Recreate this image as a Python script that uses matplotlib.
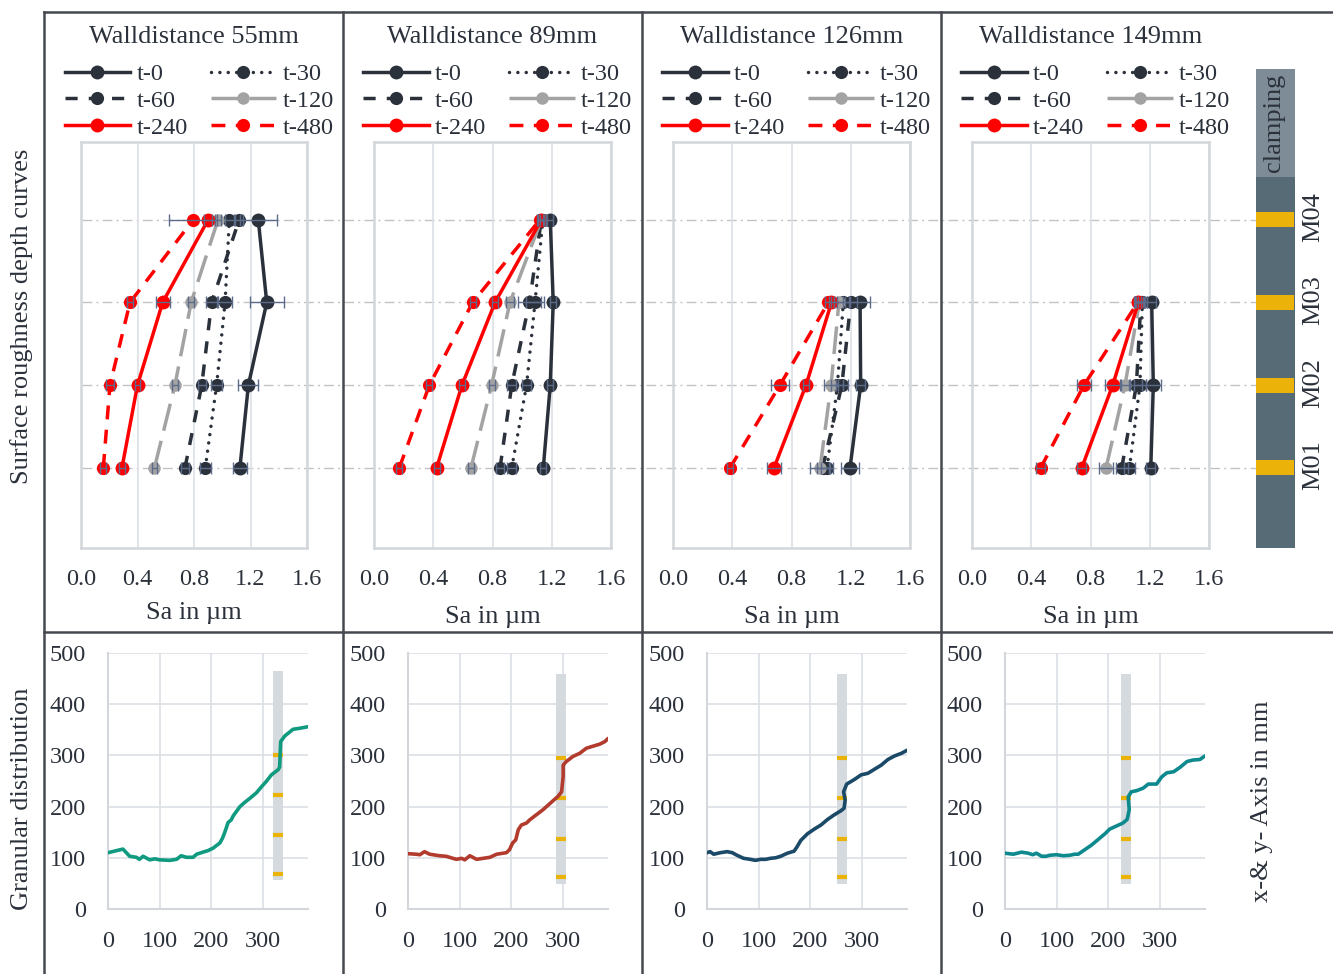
import numpy as np
import matplotlib
matplotlib.use("Agg")
import matplotlib.pyplot as plt
from matplotlib import transforms
from matplotlib.lines import Line2D

plt.rcParams['font.family'] = ['Liberation Serif', 'DejaVu Serif']

# ---------------------------------------------------------------- data
wall_distances = ["Walldistance 55mm", "Walldistance 89mm",
                  "Walldistance 126mm", "Walldistance 149mm"]
times = ["t-0", "t-30", "t-60", "t-120", "t-240", "t-480"]
positions = ["M01", "M02", "M03", "M04"]
position_level = [1, 2, 3, 4]

# Sa (µm) per time step, values for M01..M04
sa_55mm = [[1.125, 1.185, 1.315, 1.255],
           [0.880, 0.960, 1.020, 1.050],
           [0.736, 0.855, 0.925, 1.120],
           [0.520, 0.665, 0.780, 0.970],
           [0.290, 0.400, 0.578, 0.900],
           [0.158, 0.205, 0.347, 0.795]]
sa_89mm = [[1.143, 1.190, 1.210, 1.190],
           [0.930, 1.030, 1.087, 1.140],
           [0.851, 0.930, 1.049, 1.130],
           [0.655, 0.794, 0.918, 1.130],
           [0.423, 0.594, 0.817, 1.130],
           [0.171, 0.374, 0.666, 1.120]]
sa_126mm = [[1.195, 1.267, 1.263, np.nan],
            [1.040, 1.110, 1.150, np.nan],
            [1.010, 1.140, 1.200, np.nan],
            [0.993, 1.067, 1.120, np.nan],
            [0.682, 0.898, 1.070, np.nan],
            [0.385, 0.722, 1.049, np.nan]]
sa_149mm = [[1.207, 1.224, 1.213, np.nan],
            [1.063, 1.134, 1.150, np.nan],
            [1.011, 1.110, 1.140, np.nan],
            [0.905, 1.033, 1.130, np.nan],
            [0.741, 0.950, 1.123, np.nan],
            [0.464, 0.756, 1.120, np.nan]]

# standard deviation of Sa (µm)
err_55mm = [[0.05, 0.07, 0.12, 0.13],
            [0.04, 0.04, 0.05, 0.03],
            [0.03, 0.03, 0.04, 0.03],
            [0.02, 0.02, 0.02, 0.02],
            [0.02, 0.02, 0.05, 0.03],
            [0.02, 0.03, 0.02, 0.17]]
err_89mm = [[0.02, 0.02, 0.02, 0.02],
            [0.03, 0.03, 0.06, 0.02],
            [0.03, 0.03, 0.08, 0.02],
            [0.02, 0.02, 0.03, 0.02],
            [0.02, 0.02, 0.02, 0.02],
            [0.02, 0.02, 0.02, 0.02]]
err_126mm = [[0.06, 0.03, 0.07, np.nan],
             [0.04, 0.04, 0.04, np.nan],
             [0.04, 0.04, 0.04, np.nan],
             [0.07, 0.05, 0.03, np.nan],
             [0.05, 0.02, 0.02, np.nan],
             [0.02, 0.06, 0.02, np.nan]]
err_149mm = [[0.03, 0.05, 0.03, np.nan],
             [0.04, 0.04, 0.03, np.nan],
             [0.04, 0.04, 0.03, np.nan],
             [0.05, 0.03, 0.03, np.nan],
             [0.03, 0.05, 0.03, np.nan],
             [0.03, 0.05, 0.02, np.nan]]

sa_values = [sa_55mm, sa_89mm, sa_126mm, sa_149mm]
sa_errors = [err_55mm, err_89mm, err_126mm, err_149mm]

# granular distribution contours (x / y in mm)
contour_x_55 = [0, 29, 42, 55, 61, 68, 81, 91, 100, 120, 133, 142, 152, 165,
                172, 184, 194, 204, 217, 222, 227, 233, 239, 243, 256, 265,
                275, 288, 298, 307, 317, 330, 333, 335, 343, 359, 372, 388]
contour_y_55 = [110, 117, 103, 101, 97, 103, 96, 98, 96, 95, 97, 104, 101,
                101, 107, 111, 114, 119, 129, 138, 151, 169, 174, 182, 200,
                208, 216, 227, 239, 249, 262, 272, 277, 327, 338, 351, 353, 356]
contour_x_89 = [0, 16, 23, 32, 42, 61, 74, 87, 94, 104, 110, 120, 133, 146,
                159, 172, 191, 197, 203, 209, 214, 220, 230, 236, 249, 262,
                272, 282, 291, 298, 301, 301, 307, 320, 333, 346, 359, 372,
                382, 388]
contour_y_89 = [108, 107, 106, 112, 107, 104, 103, 99, 97, 99, 96, 104, 97,
                99, 101, 107, 110, 116, 129, 135, 155, 164, 168, 174, 184, 194,
                203, 212, 220, 229, 259, 281, 288, 298, 304, 314, 318, 322,
                327, 333]
contour_x_126 = [0, 6, 13, 26, 39, 49, 58, 71, 84, 94, 104, 114, 123, 133,
                 143, 156, 169, 175, 182, 195, 208, 221, 234, 247, 260, 266,
                 268, 265, 271, 286, 299, 312, 325, 338, 351, 364, 377, 388]
contour_y_126 = [110, 112, 107, 110, 112, 110, 105, 99, 97, 95, 97, 97, 99,
                 100, 103, 109, 113, 122, 134, 147, 156, 164, 175, 184, 192,
                 197, 213, 229, 244, 253, 262, 265, 273, 281, 292, 299, 304, 310]
contour_x_149 = [0, 16, 32, 45, 54, 61, 71, 80, 87, 100, 113, 126, 135, 142,
                 155, 168, 181, 194, 203, 216, 229, 237, 241, 239, 245, 255,
                 268, 278, 294, 304, 314, 327, 340, 353, 365, 378, 388]
contour_y_149 = [109, 107, 111, 109, 106, 109, 103, 103, 105, 106, 104, 105,
                 107, 107, 116, 125, 136, 147, 156, 162, 168, 175, 194, 219,
                 229, 231, 236, 244, 244, 258, 266, 268, 277, 288, 291, 292, 299]
contours_x = [contour_x_55, contour_x_89, contour_x_126, contour_x_149]
contours_y = [contour_y_55, contour_y_89, contour_y_126, contour_y_149]

# probe column: x position, vertical extent and measuring points (mm)
probe_x = [330, 297, 262, 234]
probe_bottom = [57, 49, 49, 49]
probe_top = [465, 459, 459, 459]
probe_marks = [[68, 145, 223, 301],
               [62, 137, 216, 294],
               [62, 137, 216, 294],
               [62, 137, 216, 294]]

sa_ticks = [0.0, 0.4, 0.8, 1.2, 1.6]
dist_ticks = [0, 100, 200, 300]
height_ticks = [0, 100, 200, 300, 400, 500]

# ---------------------------------------------------------------- style
DARK = "#2b313b"
GRAY = "#a3a3a3"
RED = "#ff0000"
ERR = "#5c6b8a"
FRAME = "#d3d6db"
GRID = "#dcdfe5"
BORDER = "#45494f"
YELLOW = "#ebb30a"
contour_colors = ["#109a80", "#b23b2d", "#1b4968", "#0e8a8e"]

series_style = [
    dict(color=DARK, linestyle="-", markersize=10),
    dict(color=DARK, linestyle=(0, (0.01, 2.4)), dash_capstyle="round",
         markersize=9.5),
    dict(color=DARK, linestyle=(0, (3.5, 3.2)), markersize=9.5),
    dict(color=GRAY, linestyle=(0, (8, 3)), markersize=9),
    dict(color=RED, linestyle="-", markersize=10),
    dict(color=RED, linestyle=(0, (4, 3)), markersize=9.5),
]

FS = 17.5
FS_LABEL = 19

W, H = 1333, 974
fig = plt.figure(figsize=(W / 100, H / 100), dpi=100)


def fx(px):
    return px / W


def fy(py):
    return 1 - py / H


def axes_px(x0, y0, x1, y1, **kw):
    return fig.add_axes([fx(x0), fy(y1), (x1 - x0) / W, (y1 - y0) / H], **kw)


top_boxes = [(81, 307), (374, 611), (673, 910), (972, 1209)]
bottom_boxes = [(108, 308), (408, 608), (707, 907), (1005, 1205)]
TOP_Y0, TOP_Y1 = 142, 548
BOT_Y0, BOT_Y1 = 653, 909
YLIM = (0.03, 4.94)

# ---------------------------------------------------------------- top row
top_axes = []
for i, (x0, x1) in enumerate(top_boxes):
    ax = axes_px(x0, TOP_Y0, x1, TOP_Y1)
    ax.set_facecolor("none")
    top_axes.append(ax)
    handles = []
    for s, name in enumerate(times):
        st = series_style[s]
        vals = sa_values[i][s]
        (ln,) = ax.plot(vals, position_level, marker="o", lw=2.5,
                        markeredgewidth=0, label=name, zorder=3, **st)
        handles.append(ln)
        ax.errorbar(vals, position_level, xerr=sa_errors[i][s], fmt="none",
                    ecolor=ERR, elinewidth=1.0, capsize=4, capthick=1.0,
                    zorder=4)
    ax.set_xlim(0, 1.6)
    ax.set_ylim(*YLIM)
    ax.set_xticks(sa_ticks)
    ax.set_xticklabels([f"{t:.1f}" for t in sa_ticks])
    ax.set_yticks([])
    ax.tick_params(axis="x", length=0, labelsize=FS, pad=15, colors=DARK)
    ax.grid(axis="x", color=GRID, lw=1.2)
    ax.set_axisbelow(True)
    for sp in ax.spines.values():
        sp.set_color(FRAME)
        sp.set_linewidth(1.8)
    ax.set_xlabel("Sa in µm", fontsize=FS_LABEL, color=DARK,
                  labelpad=9 if i == 0 else 12)
    cx = (x0 + x1) / 2
    fig.text(fx(cx), fy(37), wall_distances[i], ha="center", va="center",
             fontsize=FS_LABEL, color=DARK)
    order = [0, 2, 4, 1, 3, 5]
    ax.legend([handles[k] for k in order], [times[k] for k in order],
              ncol=2, loc="upper center",
              bbox_to_anchor=(fx(cx + 5), fy(63)),
              bbox_transform=fig.transFigure, frameon=False, fontsize=FS,
              handlelength=2.7, handletextpad=0.25, columnspacing=0.95,
              labelspacing=0.2, borderpad=0, borderaxespad=0,
              labelcolor=DARK)

# dash-dot lines marking the measuring positions across all panels
trans = transforms.blended_transform_factory(fig.transFigure,
                                             top_axes[0].transData)
for lvl in position_level:
    fig.add_artist(Line2D([fx(82), fx(1256)], [lvl, lvl], transform=trans,
                          color="#c3c3c3", lw=1.0,
                          linestyle=(0, (7, 3, 1.5, 3)), zorder=-1))

# ---------------------------------------------------------------- probe bar
bar = axes_px(1256, 69, 1295, 548)
bar_top = YLIM[0] + (548 - 69) / (TOP_Y1 - TOP_Y0) * (YLIM[1] - YLIM[0])
clamp_start = 4.52
bar.set_ylim(YLIM[0], bar_top)
bar.set_xlim(0, 1)
bar.axhspan(YLIM[0], clamp_start, color="#576b76", lw=0)
bar.axhspan(clamp_start, bar_top, color="#7d8c96", lw=0)
for lvl, name in zip(position_level, positions):
    bar.axhspan(lvl - 0.09, lvl + 0.09, xmin=0, xmax=0.98, color=YELLOW, lw=0)
    bar.text(1.47, lvl + 0.03, name, rotation=90, ha="center", va="center",
             fontsize=FS_LABEL, color=DARK, transform=bar.get_yaxis_transform())
bar.text(0.45, (clamp_start + bar_top) / 2, "clamping", rotation=90,
         ha="center", va="center", fontsize=FS_LABEL, color=DARK,
         transform=bar.get_yaxis_transform())
bar.axis("off")

# ---------------------------------------------------------------- bottom row
for i, (x0, x1) in enumerate(bottom_boxes):
    ax = axes_px(x0, BOT_Y0, x1, BOT_Y1)
    ax.bar(probe_x[i], probe_top[i] - probe_bottom[i], bottom=probe_bottom[i],
           width=19, color="#d4dadd", lw=0, zorder=2)
    ax.hlines(probe_marks[i], probe_x[i] - 9.5, probe_x[i] + 9.5,
              color=YELLOW, lw=3, zorder=3)
    ax.plot(contours_x[i], contours_y[i], color=contour_colors[i], lw=2.6,
            solid_joinstyle="round", solid_capstyle="round", zorder=4)
    ax.set_xlim(0, 388)
    ax.set_ylim(0, 500)
    ax.set_xticks(dist_ticks)
    ax.set_yticks(height_ticks)
    ax.tick_params(length=0, labelsize=FS, colors=DARK)
    ax.tick_params(axis="x", pad=15.5)
    ax.tick_params(axis="y", pad=16)
    ax.grid(color=GRID, lw=1.2)
    ax.set_axisbelow(True)
    for side in ("top", "right"):
        ax.spines[side].set_visible(False)
    for side in ("left", "bottom"):
        ax.spines[side].set_color(FRAME)
        ax.spines[side].set_linewidth(1.5)

# ---------------------------------------------------------------- labels
fig.text(fx(22), fy(316), "Surface roughness depth curves", rotation=90,
         ha="center", va="center", fontsize=FS_LABEL, color=DARK)
fig.text(fx(22), fy(799), "Granular distribution", rotation=90,
         ha="center", va="center", fontsize=FS_LABEL, color=DARK)
fig.text(fx(1262), fy(801), "x-& y- Axis in mm", rotation=90,
         ha="center", va="center", fontsize=FS_LABEL, color=DARK)

# ---------------------------------------------------------------- frame
frame = dict(transform=fig.transFigure, color=BORDER, lw=1.8)
fig.add_artist(Line2D([fx(44), 1], [fy(12), fy(12)], **frame))
fig.add_artist(Line2D([fx(44), 1], [fy(632), fy(632)], **frame))
for xv in (44, 343, 642, 941):
    fig.add_artist(Line2D([fx(xv), fx(xv)], [fy(12), 0], **frame))

fig.savefig("out.png", dpi=100, facecolor="white")
